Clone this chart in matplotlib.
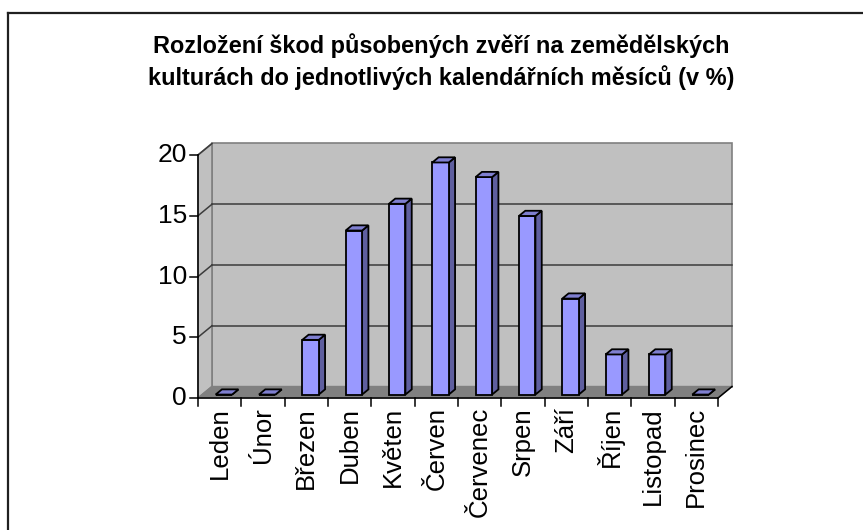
import numpy as np
import matplotlib
matplotlib.use('Agg')
import matplotlib.pyplot as plt
from matplotlib.patches import Polygon
from matplotlib.lines import Line2D

months = ['Leden', 'Únor', 'Březen', 'Duben', 'Květen', 'Červen',
          'Červenec', 'Srpen', 'Září', 'Říjen', 'Listopad', 'Prosinec']
values = [0, 0, 4.5, 13.5, 15.7, 19.1, 17.9, 14.7, 7.9, 3.3, 3.3, 0]
yticks = [0, 5, 10, 15, 20]
title = ('Rozložení škod působených zvěří na zemědělských\n'
         'kulturách do jednotlivých kalendářních měsíců (v %)')

plt.rcParams['font.family'] = ['Liberation Sans', 'DejaVu Sans']

W, H = 863, 530
fig = plt.figure(figsize=(W / 100, H / 100), dpi=100)

# front plot area in pixels (image coords)
x0_px, x1_px = 198, 718
y0_px, y20_px = 398, 155
ax = fig.add_axes([x0_px / W, 1 - y0_px / H, (x1_px - x0_px) / W, (y0_px - y20_px) / H])
n = len(months)
ymax = 20
ax.set_xlim(0, n)
ax.set_ylim(0, ymax)
ax.axis('off')

px_x = (x1_px - x0_px) / n
px_y = (y0_px - y20_px) / ymax
DX = 14 / px_x      # depth offset in data units
DY = 11.5 / px_y

wall = '#c0c0c0'
edge = '#808080'

# back wall
ax.add_patch(Polygon([(DX, DY), (n + DX, DY), (n + DX, ymax + DY), (DX, ymax + DY)],
                     closed=True, fc=wall, ec=edge, lw=1.2, clip_on=False, zorder=1))
# side wall
ax.add_patch(Polygon([(0, 0), (DX, DY), (DX, ymax + DY), (0, ymax)],
                     closed=True, fc=wall, ec=edge, lw=1.2, clip_on=False, zorder=1))
# floor
ax.add_patch(Polygon([(0, 0), (n, 0), (n + DX, DY), (DX, DY)],
                     closed=True, fc='#808080', ec=edge, lw=1.0, clip_on=False, zorder=1))

# gridlines on walls
for t in yticks[1:-1]:
    ax.add_line(Line2D([DX, n + DX], [t + DY, t + DY], color='#3c3c3c', lw=1.1,
                       clip_on=False, zorder=2))
    ax.add_line(Line2D([0, DX], [t, t + DY], color='#3c3c3c', lw=1.1,
                       clip_on=False, zorder=2))
ax.add_line(Line2D([0, DX], [ymax, ymax + DY], color='#3c3c3c', lw=1.1, clip_on=False, zorder=2))

# axes lines and ticks
ax.add_line(Line2D([0, 0], [0, ymax], color='black', lw=1.1, clip_on=False, zorder=5))
ax.add_line(Line2D([0, n], [0, 0], color='black', lw=1.1, clip_on=False, zorder=5))
ax.add_line(Line2D([n, n + DX], [0, DY], color='black', lw=1.1, clip_on=False, zorder=5))
tick_len = 8 / px_x
for t in yticks:
    ax.add_line(Line2D([-tick_len, 0], [t, t], color='black', lw=1.1, clip_on=False, zorder=5))
    ax.text(-tick_len - 3 / px_x, t, str(t), ha='right', va='center', fontsize=19)
for i in range(n + 1):
    ax.add_line(Line2D([i, i], [0, -8 / px_y], color='black', lw=1.1, clip_on=False, zorder=5))
for i, m in enumerate(months):
    ax.text(i + 0.5, -9 / px_y, m, rotation=90, ha='center', va='top', fontsize=18.5)

# bars (3D look)
bw = 0.38
f_front = 0.3
f_depth = 0.45
bx = np.arange(n) + 0.5 - bw / 2 + f_front * DX
by = f_front * DY
ddx = f_depth * DX
ddy = f_depth * DY
ax.bar(bx, values, width=bw, bottom=by, align='edge', color='#9999ff',
       edgecolor='black', linewidth=1.3, zorder=10, clip_on=False)
for xl, v in zip(bx, values):
    top = by + v
    ax.add_patch(Polygon([(xl + bw, by), (xl + bw + ddx, by + ddy),
                          (xl + bw + ddx, top + ddy), (xl + bw, top)],
                         closed=True, fc='#5f5f9f', ec='black', lw=1.3, clip_on=False, zorder=9))
    ax.add_patch(Polygon([(xl, top), (xl + bw, top), (xl + bw + ddx, top + ddy), (xl + ddx, top + ddy)],
                         closed=True, fc='#7f7fd0', ec='black', lw=1.3, clip_on=False, zorder=11))

fig.text(441 / W, 1 - 61.5 / H, title, ha='center', va='center', fontsize=16.9,
         fontweight='bold', linespacing=1.4)

# outer border
fig.add_artist(Line2D([7.5 / W, 7.5 / W], [0, 1 - 13 / H], color='#202020', lw=1.6))
fig.add_artist(Line2D([7.5 / W, 1], [1 - 13 / H, 1 - 13 / H], color='#202020', lw=1.6))

fig.savefig('out.png', dpi=100)
